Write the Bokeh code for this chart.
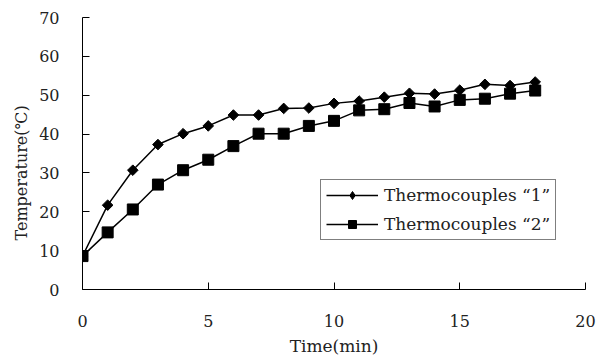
import numpy as np
from bokeh.plotting import figure
from bokeh.models import Range1d, SingleIntervalTicker, Legend, LegendItem, Title
from bokeh.embed import file_html
from bokeh.resources import INLINE

time_min = [0, 1, 2, 3, 4, 5, 6, 7, 8, 9, 10, 11, 12, 13, 14, 15, 16, 17, 18]
tc1 = [8.6, 21.7, 30.7, 37.3, 40.1, 42.1, 44.9, 44.9, 46.6, 46.7, 47.9, 48.5, 49.5, 50.5, 50.3, 51.3, 52.8, 52.5, 53.4]
tc2 = [8.6, 14.7, 20.6, 27.0, 30.7, 33.4, 36.9, 40.1, 40.1, 42.1, 43.4, 46.1, 46.4, 48.0, 47.1, 48.8, 49.1, 50.4, 51.2]
labels = ["Thermocouples \u201c1\u201d", "Thermocouples \u201c2\u201d"]
x_title = "Time(min)"
y_title = "Temperature(\u2103)"

FONT = "DejaVu Serif"

p = figure(width=603, height=360, output_backend="svg", toolbar_location=None,
           x_range=Range1d(0, 20), y_range=Range1d(0, 70),
           min_border_left=82, min_border_right=18, min_border_top=17, min_border_bottom=71)
p.outline_line_color = None
p.background_fill_color = "white"
p.border_fill_color = "white"
p.xgrid.visible = False
p.ygrid.visible = False

p.xaxis.ticker = SingleIntervalTicker(interval=5)
p.yaxis.ticker = SingleIntervalTicker(interval=10)
for ax in (p.xaxis, p.yaxis):
    ax.axis_line_color = "black"
    ax.major_tick_line_color = "black"
    ax.major_tick_in = 7
    ax.major_tick_out = 0
    ax.minor_tick_line_color = None
    ax.major_label_text_font = FONT
    ax.major_label_text_font_size = "16px"
    ax.major_label_text_color = "#222222"
    ax.axis_label_text_font = FONT
    ax.axis_label_text_font_style = "normal"
    ax.axis_label_text_color = "#222222"
p.xaxis.axis_label_text_font_size = "17px"
p.xaxis.axis_label = x_title
p.xaxis.major_label_standoff = 21
p.yaxis.major_label_standoff = 19
p.xaxis.axis_label_standoff = 6

# y-axis title as a side title so it can be shifted along the axis
ytitle = Title(text=y_title, align="left", offset=49, standoff=12,
               text_font=FONT, text_font_size="16px", text_font_style="normal",
               text_color="#222222")
p.add_layout(ytitle, "left")

l1 = p.line(time_min, tc1, line_color="black", line_width=1.5)
m1 = p.scatter(time_min, tc1, marker="square", angle=np.pi / 4, size=7.5,
               fill_color="black", line_color="black")
l2 = p.line(time_min, tc2, line_color="black", line_width=1.5)
m2 = p.scatter(time_min, tc2, marker="square", size=11,
               fill_color="black", line_color="black")
# legend-only glyph (point lies outside the visible ranges)
d1 = p.scatter([-100], [-100], marker="diamond", size=11,
               fill_color="black", line_color="black")

legend = Legend(items=[LegendItem(label=labels[0], renderers=[l1, d1]),
                       LegendItem(label=labels[1], renderers=[l2, m2])],
                location=(238, 49))
legend.border_line_color = "black"
legend.border_line_width = 1
legend.background_fill_alpha = 1
legend.label_text_font = FONT
legend.label_text_font_size = "17px"
legend.label_text_color = "#222222"
legend.glyph_width = 52
legend.glyph_height = 20
legend.label_standoff = 6
legend.spacing = 9
legend.padding = 5
legend.margin = 0
p.add_layout(legend, "center")

open("out.html", "w").write(file_html(p, INLINE))
